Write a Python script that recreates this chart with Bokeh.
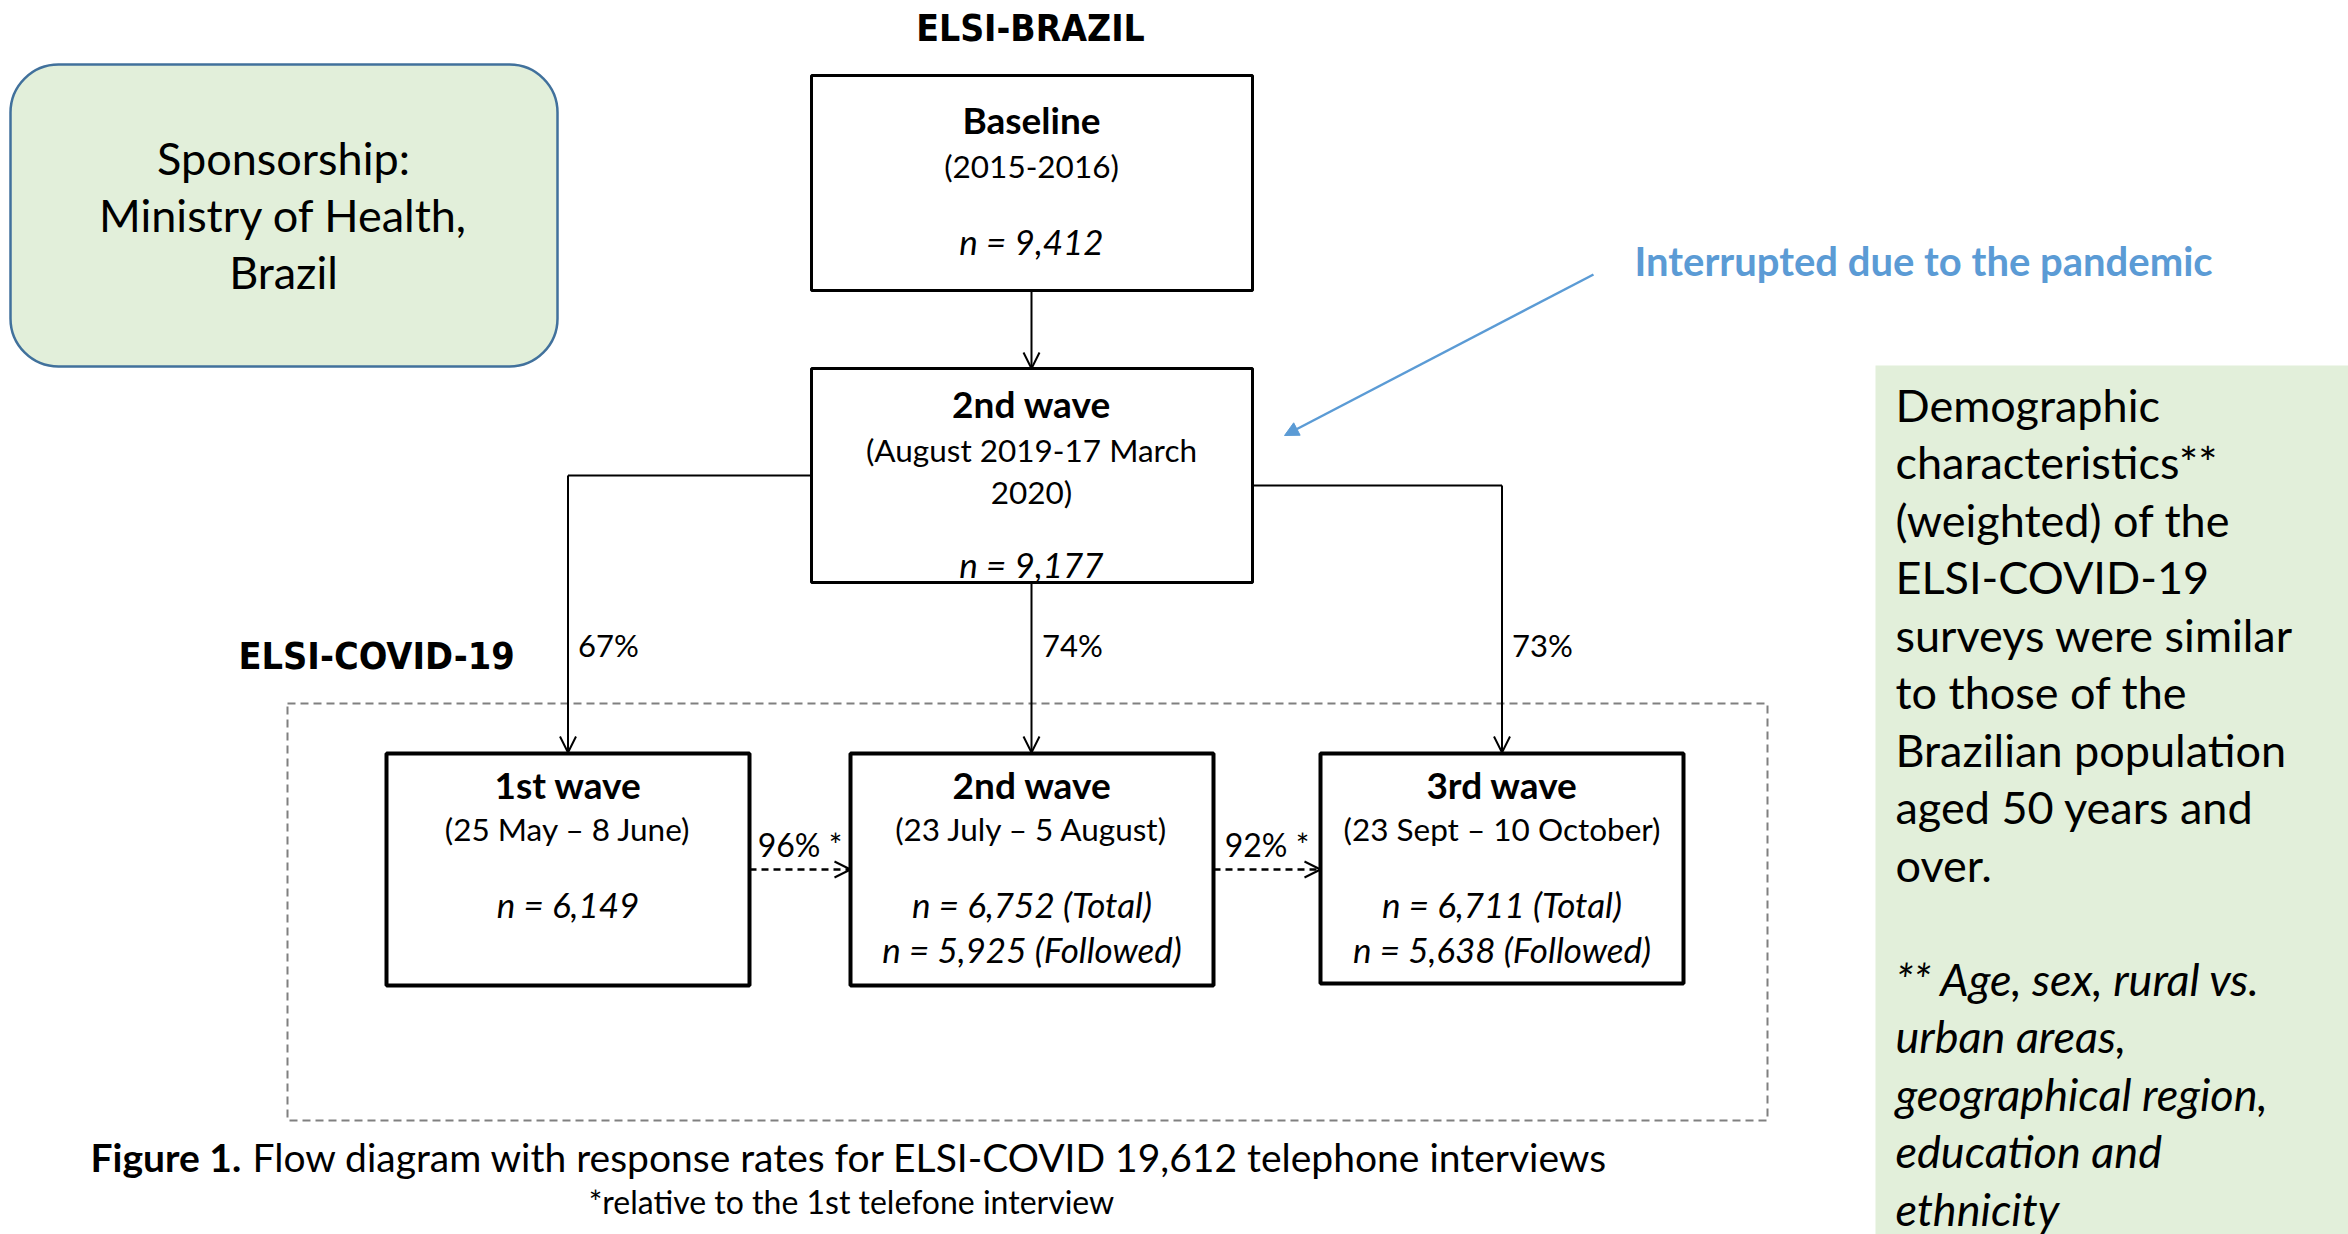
from bokeh.plotting import figure
from bokeh.models import Range1d, Arrow, OpenHead, NormalHead
from bokeh.core.properties import value
from bokeh.embed import file_html
from bokeh.resources import INLINE

# ---------------- data ----------------
main_title = "ELSI-BRAZIL"
covid_title = "ELSI-COVID-19"
elsi_titles = ["Baseline", "2nd wave"]
elsi_periods = [["(2015-2016)"], ["(August 2019-17 March", "2020)"]]
elsi_n = [9412, 9177]

covid_titles = ["1st wave", "2nd wave", "3rd wave"]
covid_periods = ["(25 May \u2013 8 June)", "(23 July \u2013 5 August)", "(23 Sept \u2013 10 October)"]
covid_n_total = [6149, 6752, 6711]
covid_n_followed = [None, 5925, 5638]
response_from_2nd_wave = [67, 74, 73]
followup_rates = [96, 92]

sponsor_lines = ["Sponsorship:", "Ministry of Health,", "Brazil"]
interrupt_note = "Interrupted due to the pandemic"
side_lines = ["Demographic", "characteristics**", "(weighted) of the", "ELSI-COVID-19",
              "surveys were similar", "to those of the", "Brazilian population",
              "aged 50 years and", "over."]
side_note_lines = ["** Age, sex, rural vs.", "urban areas,", "geographical region,",
                   "education and", "ethnicity"]
caption_bold = "Figure 1."
caption_text = "Flow diagram with response rates for ELSI-COVID 19,612 telephone interviews"
caption_note = "*relative to the 1st telefone interview"

# ---------------- layout ----------------
W, H = 2348, 1234
FONT = "Lato"
TITLE_FONT = "DejaVu Sans Condensed"
GREEN = "#E2EFDA"
BLUE = "#5B9BD5"
TEXT_DY = -3

p = figure(width=W, height=H, x_range=Range1d(0, W), y_range=Range1d(H, 0),
           output_backend="svg", toolbar_location=None, min_border=0)
p.axis.visible = False
p.grid.visible = False
p.outline_line_color = None
p.background_fill_color = "white"


def txt(x, y, s, size, style="normal", align="center", color="black", font=FONT):
    dy = TEXT_DY if font == FONT else 0
    p.text(x=[x], y=[y + dy], text=[s], text_font=value(font), text_font_size=f"{size}px",
           text_font_style=style, text_align=align, text_baseline="middle", text_color=color)


def arrow(x0, y0, x1, y1, color="black", width=2, dash="solid", head=None):
    if head is None:
        head = OpenHead(size=16, line_color=color, line_width=2)
    p.add_layout(Arrow(end=head, x_start=x0, y_start=y0, x_end=x1, y_end=y1,
                       line_color=color, line_width=width, line_dash=dash))


# sponsorship box
p.quad(left=[10], right=[557], top=[64], bottom=[366], fill_color=GREEN,
       line_color="#41719C", line_width=2.5, border_radius=48)
for i, s in enumerate(sponsor_lines):
    txt(283, 160 + 57 * i, s, 45)

# right green panel
p.quad(left=[1875], right=[W], top=[365], bottom=[H], fill_color=GREEN, line_color=None)
for i, s in enumerate(side_lines):
    txt(1895, 407 + 57.5 * i, s, 45, align="left")
for i, s in enumerate(side_note_lines):
    txt(1895, 981 + 57.5 * i, s, 45, style="italic", align="left")

# titles
txt(1030, 28, main_title, 37, style="bold", font=TITLE_FONT)
txt(238, 655, covid_title, 37.5, style="bold", align="left", font=TITLE_FONT)

# dashed COVID frame
p.quad(left=[287], right=[1767], top=[703], bottom=[1120], fill_color=None,
       line_color="#808080", line_width=2, line_dash="8 5")

# connectors
elsi_cx = 1031
covid_cx = [567.5, 1031.5, 1501.5]
covid_left = [386, 850, 1320]
covid_right = [749, 1213, 1683]
p.line(x=[811, covid_cx[0]], y=[475, 475], line_color="black", line_width=2)
p.line(x=[1246, covid_cx[2]], y=[485, 485], line_color="black", line_width=2)
arrow(elsi_cx, 290, elsi_cx, 368)
arrow(covid_cx[0], 475, covid_cx[0], 752)
arrow(elsi_cx, 582, elsi_cx, 752)
arrow(covid_cx[2], 485, covid_cx[2], 752)
for i, r in enumerate(response_from_2nd_wave):
    txt(covid_cx[i] + 10, 647, f"{r}%", 31, align="left")

# follow-up dashed arrows
for i, r in enumerate(followup_rates):
    arrow(covid_right[i], 869, covid_left[i + 1], 869, width=2.5, dash="7 5")
    txt((covid_right[i] + covid_left[i + 1]) / 2, 847, f"{r}% *", 32)

# ELSI boxes
elsi_top = [75, 368]
elsi_bottom = [290, 582]
p.quad(left=[811, 811], right=[1252, 1252], top=elsi_top, bottom=elsi_bottom,
       fill_color="white", line_color="black", line_width=3)
elsi_title_y = [122, 406]
elsi_period_y = [168, 452]
elsi_n_y = [243, 566]
for i in range(2):
    txt(elsi_cx, elsi_title_y[i], elsi_titles[i], 37, style="bold")
    for j, s in enumerate(elsi_periods[i]):
        txt(elsi_cx, elsi_period_y[i] + 42 * j, s, 31.5)
    txt(elsi_cx, elsi_n_y[i], f"n = {elsi_n[i]:,}", 35, style="italic")

# COVID boxes
p.quad(left=covid_left, right=covid_right, top=[753] * 3, bottom=[985, 985, 983],
       fill_color="white", line_color="black", line_width=4)
for i in range(3):
    txt(covid_cx[i], 787, covid_titles[i], 37, style="bold")
    txt(covid_cx[i], 831, covid_periods[i], 31.5)
    if covid_n_followed[i] is None:
        txt(covid_cx[i], 906, f"n = {covid_n_total[i]:,}", 35, style="italic")
    else:
        txt(covid_cx[i], 906, f"n = {covid_n_total[i]:,} (Total)", 35, style="italic")
        txt(covid_cx[i], 951, f"n = {covid_n_followed[i]:,} (Followed)", 35, style="italic")

# interruption note
txt(1634, 263, interrupt_note, 40, style="bold", align="left", color=BLUE)
arrow(1593, 274, 1284, 435, color=BLUE, width=2.5,
      head=NormalHead(size=14, fill_color=BLUE, line_color=BLUE))

# caption
txt(90, 1159, caption_bold, 39, style="bold", align="left")
txt(252, 1159, caption_text, 39, align="left")
txt(851, 1204, caption_note, 32)

open("out.html", "w").write(file_html(p, INLINE))
